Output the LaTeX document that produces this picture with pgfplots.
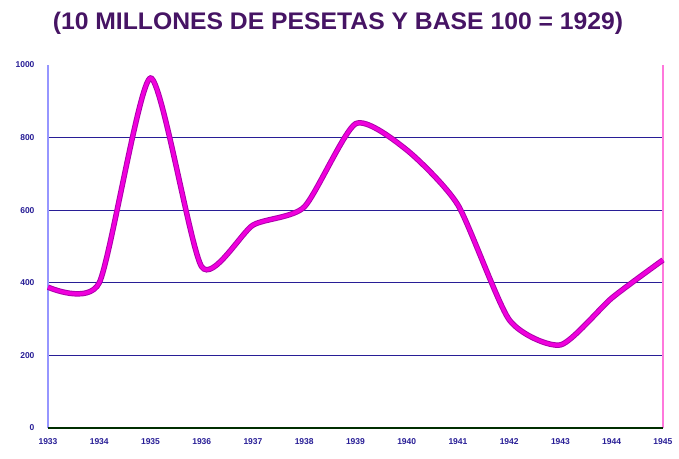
\documentclass[border=0pt]{standalone}
\usepackage{pgfplots}
\pgfplotsset{compat=1.18}
\usepackage{fontspec}
\setmainfont{Liberation Sans}
\definecolor{gridnavy}{RGB}{40,30,150}
\definecolor{leftax}{RGB}{150,150,255}
\definecolor{rightax}{RGB}{255,120,220}
\definecolor{linemag}{RGB}{240,0,220}
\definecolor{lineedge}{RGB}{170,0,170}
\definecolor{titlecol}{RGB}{70,20,100}
\begin{document}
\begin{tikzpicture}[x=1pt,y=1pt]
\useasboundingbox (0,0) rectangle (679,458);
\node[font=\bfseries\fontsize{24}{26}\selectfont, text=titlecol, xscale=1.03] at (338,435) {(10 MILLONES DE PESETAS Y BASE 100 = 1929)};
\begin{axis}[
  at={(48pt,30pt)}, anchor=south west,
  scale only axis, width=615pt, height=363pt,
  xmin=1933, xmax=1945, ymin=0, ymax=1000,
  xtick={1933,...,1945}, ytick={0,200,400,600,800,1000},
  xticklabel style={font=\bfseries\fontsize{8.5}{9}\selectfont, text=gridnavy, yshift=-7pt},
  yticklabel style={font=\bfseries\fontsize{8.5}{9}\selectfont, text=gridnavy, xshift=-10pt},
  /pgf/number format/assume math mode=true,
  /pgf/number format/1000 sep={},
  xticklabel={\pgfmathprintnumber[1000 sep={}]{\tick}},
  axis line style={draw=none},
  tick style={draw=none},
  clip=false,
]
\foreach \g in {200,400,600,800}{
  \edef\tmp{\noexpand\draw[gridnavy, line width=1.2pt] (axis cs:1933,\g) -- (axis cs:1945,\g);}\tmp
}
\draw[leftax, line width=1.5pt] (axis cs:1933,0) -- (axis cs:1933,1000);
\draw[rightax, line width=1.5pt] (axis cs:1945,0) -- (axis cs:1945,1000);
\addplot[lineedge, line width=5.5pt, smooth, tension=0.38] coordinates {
(1933,388) (1934,400) (1935,964) (1936,444) (1937,559) (1938,609) (1939,838)
(1940,766) (1941,614) (1942,298) (1943,229) (1944,358) (1945,463)};
\addplot[linemag, line width=3.6pt, smooth, tension=0.38] coordinates {
(1933,388) (1934,400) (1935,964) (1936,444) (1937,559) (1938,609) (1939,838)
(1940,766) (1941,614) (1942,298) (1943,229) (1944,358) (1945,463)};
\draw[black!70!green!60!black, line width=2pt] (axis cs:1933,0) -- (axis cs:1945,0);
\end{axis}
\end{tikzpicture}
\end{document}
